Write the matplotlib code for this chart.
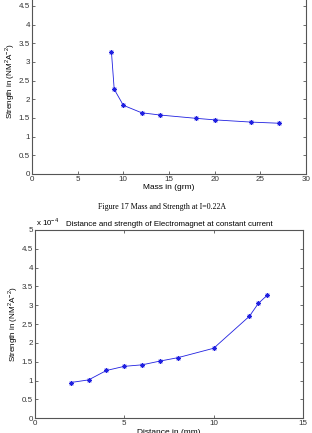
import numpy as np
import matplotlib
matplotlib.use("Agg")
import matplotlib.pyplot as plt

# data (strength in units of 1e-4)
mass = [8.7, 9, 10, 12, 14, 18, 20, 24, 27]
strength_mass = [3.26, 2.27, 1.84, 1.64, 1.58, 1.49, 1.45, 1.39, 1.36]

dist = [2, 3, 4, 5, 6, 7, 8, 10, 12, 12.5, 13]
strength_dist = [0.95, 1.02, 1.27, 1.38, 1.42, 1.52, 1.61, 1.86, 2.71, 3.05, 3.27]

plt.rcParams['font.family'] = ['Liberation Sans', 'DejaVu Sans']
plt.rcParams['font.size'] = 6
plt.rcParams['mathtext.fontset'] = 'custom'
plt.rcParams['mathtext.rm'] = 'Liberation Sans'

fig = plt.figure(figsize=(3.12, 4.33), dpi=100)
W, H = 312.0, 433.0

def setup(ax, xlim, xticks):
    ax.set_xlim(xlim)
    ax.set_ylim(0, 5)
    ax.set_xticks(xticks)
    ax.set_yticks(np.arange(0, 5.01, 0.5))
    ax.set_yticklabels(['0', '0.5', '1', '1.5', '2', '2.5', '3', '3.5', '4', '4.5', '5'])
    ax.tick_params(direction='in', length=2, width=0.5, colors='#333333',
                   labelsize=5.8, top=True, right=True, pad=1.5)
    for s in ax.spines.values():
        s.set_color('#555555')
        s.set_linewidth(0.8)

ylab = 'Strength in (NM$^2$A$^{-2}$)'
ast = (8, 2, 0)

# top plot: mass
ax1 = fig.add_axes([32 / W, (H - 174) / H, (306 - 32) / W, (174 + 12.7) / H])
ax1.plot(mass, strength_mass, color='#2020e0', lw=0.6, marker=ast, ms=3.5, mew=0.6)
setup(ax1, (0, 30), range(0, 31, 5))
ax1.set_xlabel('Mass in (grm)', fontsize=6, labelpad=1)
ax1.set_ylabel(ylab, fontsize=5.8, labelpad=1.5)

fig.text(162 / W, 1 - 207 / H, 'Figure 17 Mass and Strength at I=0.22A',
         family='Liberation Serif', fontsize=5.7, ha='center', va='center')

# bottom plot: distance
ax2 = fig.add_axes([35 / W, (H - 418.3) / H, (303 - 35) / W, (418.3 - 230) / H])
ax2.plot(dist, strength_dist, color='#2020e0', lw=0.6, marker=ast, ms=3.5, mew=0.6)
setup(ax2, (0, 15), range(0, 16, 5))
ax2.set_xlabel('Distance in (mm)', fontsize=6, labelpad=1)
ax2.set_ylabel(ylab, fontsize=5.8, labelpad=1.5)
ax2.set_title('Distance and strength of Electromagnet at constant current',
              fontsize=5.7, pad=3)
fig.text(36 / W, 1 - 222 / H, 'x 10$^{-4}$', fontsize=5.7, ha='left', va='center')

fig.savefig('out.png', dpi=100)
